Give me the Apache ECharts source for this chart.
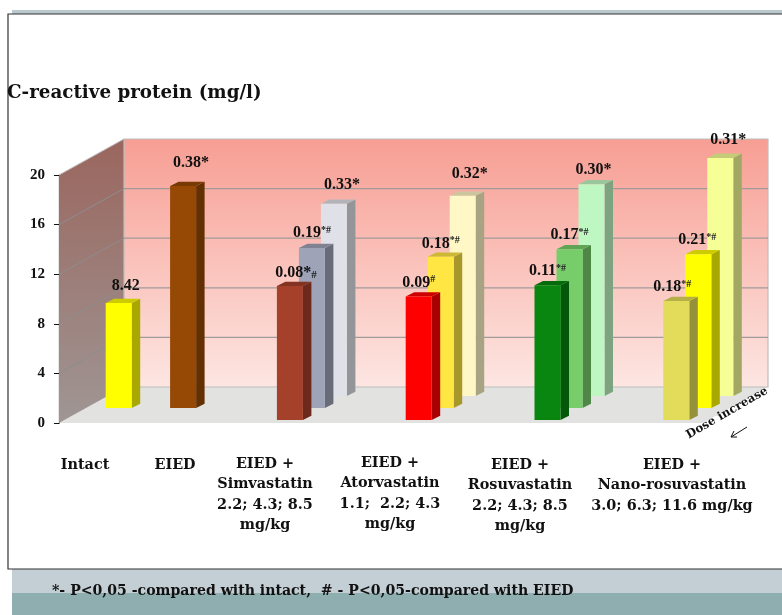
<!DOCTYPE html>
<html>
<head>
<meta charset="utf-8">
<style>html,body{margin:0;padding:0;background:#fff}#c{width:782px;height:615px}</style>
<script src="https://cdn.jsdelivr.net/npm/echarts@6/dist/echarts.min.js"></script>
</head>
<body>
<div id="c"></div>
<script>
// ---- data ----
const slots = ['Intact','EIED','','Simvastatin','','Atorvastatin','','Rosuvastatin','','Nano-rosuvastatin'];
const yTicks = [0,4,8,12,16,20];
const frontValues = [null,null,null,10.8,null,9.95,null,10.86,null,9.6];
const midValues   = [8.47,17.9,null,12.9,null,12.2,null,12.8,null,12.4];
const backValues  = [null,null,null,15.5,null,16.15,null,17.07,null,19.2];
const frontLabels = [null,null,null,'0.08*{sub|#}',null,'0.09{sup|#}',null,'0.11{sup|*#}',null,'0.18{sup|*#}'];
const midLabels   = ['8.42','0.38*',null,'0.19{sup|*#}',null,'0.18{sup|*#}',null,'0.17{sup|*#}',null,'0.21{sup|*#}'];
const backLabels  = [null,null,null,'0.33*',null,'0.32*',null,'0.30*',null,'0.31*'];
const groupLabels = ['Intact','EIED',null,'EIED +\nSimvastatin\n2.2; 4.3; 8.5\nmg/kg',null,'EIED +\nAtorvastatin\n1.1;  2.2; 4.3\nmg/kg',null,'EIED +\nRosuvastatin\n2.2; 4.3; 8.5\nmg/kg',null,'EIED +\nNano-rosuvastatin\n3.0; 6.3; 11.6 mg/kg'];
const titleText = 'C-reactive protein (mg/l)';
const footnote = '*- P<0,05 -compared with intact,  # - P<0,05-compared with EIED';
const doseText = 'Dose increase';

// ---- styling ----
const frontColors = [null,null,null,'#a5402a',null,'#ff0000',null,'#08860f',null,'#e2dc5a'];
const midColors   = ['#ffff00','#964805',null,'#9ea3b8',null,'#ffe642',null,'#78cd6b',null,'#ffff00'];
const backColors  = [null,null,null,'#e0e1e8',null,'#fff7c5',null,'#bff7c3',null,'#f6ff96'];
const frontLabelShift = [null,null,null,[6,-13],null,[0,-14],null,[0,-14],null,[-4,-14]];
const midLabelShift   = [[7,-17],[8,-23],null,[0,-15],null,[0,-13],null,[0,-14],null,[-1,-14]];
const backLabelShift  = [null,null,null,[8,-19],null,[7,-22],null,[2,-14],null,[8,-18]];
const groupLabelX = [85,175,null,265,null,390,null,520,null,672];
const groupLabelY = [455,455,null,454,null,453,null,455,null,455];
const FONT = '"Liberation Serif", serif';
const TEXTFONT = '"DejaVu Serif", serif';
const WALL = [65,-36];
const BAR_W = 26, SIDE_DX = 8.5, SIDE_DY = -4.3;

function shade(hex, k){
  const n = parseInt(hex.slice(1),16);
  const c = [n>>16,(n>>8)&255,n&255].map(v=>Math.round(v*k));
  return 'rgb('+c.join(',')+')';
}
function rows(values){
  const out=[];
  values.forEach((v,i)=>{ if(v!==null) out.push([i,v]); });
  return out;
}
function barSeries(name, values, colors, labels, shifts, rowDx, rowDy){
  return {
    name, type:'custom', coordinateSystem:'cartesian2d', silent:true,
    encode:{x:0,y:1}, data:rows(values), clip:false,
    renderItem(params, api){
      const i = api.value(0);
      const top = api.coord([i, api.value(1)]);
      const base = api.coord([i, 0]);
      const col = colors[i];
      const l = top[0]+rowDx-BAR_W/2, r = l+BAR_W;
      const t = top[1]+rowDy, b = base[1]+rowDy;
      const s = shifts[i];
      return {type:'group', children:[
        {type:'polygon', shape:{points:[[r,t],[r+SIDE_DX,t+SIDE_DY],[r+SIDE_DX,b+SIDE_DY],[r,b]]}, style:{fill:shade(col,0.66)}},
        {type:'polygon', shape:{points:[[l,t],[l+SIDE_DX,t+SIDE_DY],[r+SIDE_DX,t+SIDE_DY],[r,t]]}, style:{fill:shade(col,0.8)}},
        {type:'rect', shape:{x:l,y:t,width:BAR_W,height:b-t}, style:{fill:col}},
        {type:'text', z2:50, x:(l+r)/2+s[0], y:t+s[1], style:{
          text:labels[i], align:'center', verticalAlign:'middle',
          font:'bold 16px '+FONT, fill:'#111',
          rich:{sup:{font:'bold 10px '+FONT, fill:'#222', padding:[0,0,6,0]},
                sub:{font:'bold 11px '+FONT, fill:'#222', padding:[4,0,0,0]}}
        }}
      ]};
    }
  };
}
const wallSeries = {
  name:'walls', type:'custom', coordinateSystem:'cartesian2d', silent:true, clip:false,
  encode:{x:0,y:1}, data:[[0,0]],
  renderItem(params, api){
    const x0 = api.coord([0,0])[0]-api.size([1,0])[0]/2;
    const x1 = x0+api.size([1,0])[0]*slots.length;
    const y0 = api.coord([0,0])[1], y20 = api.coord([0,20])[1];
    const kids = [
      {type:'polygon', shape:{points:[[x0,y0],[x0+WALL[0],y0+WALL[1]],[x1+WALL[0],y0+WALL[1]],[x1,y0]]}, style:{fill:'#e2e2e0'}},
      {type:'polygon', shape:{points:[[x0,y0],[x0+WALL[0],y0+WALL[1]],[x0+WALL[0],y20+WALL[1]],[x0,y20]]},
        style:{fill:new echarts.graphic.LinearGradient(0,0,0,1,[{offset:0,color:'#9a665e'},{offset:1,color:'#9f9694'}])}},
      {type:'rect', shape:{x:x0+WALL[0],y:y20+WALL[1],width:x1-x0,height:y0-y20},
        style:{fill:new echarts.graphic.LinearGradient(0,0,0,1,[{offset:0,color:'#f79e93'},{offset:1,color:'#fde6e2'}]),stroke:'#bdbdbd',lineWidth:1.2}}
    ];
    yTicks.forEach(v=>{
      if(v===0) return;
      const y = api.coord([0,v])[1];
      kids.push({type:'line',shape:{x1:x0,y1:y,x2:x0+WALL[0],y2:y+WALL[1]},style:{stroke:v===20?'#bdbdbd':'#8d8d8d',lineWidth:1}});
      if(v!==20) kids.push({type:'line',shape:{x1:x0+WALL[0],y1:y+WALL[1],x2:x1+WALL[0],y2:y+WALL[1]},style:{stroke:'#a09a9a',lineWidth:1.3}});
    });
    return {type:'group',children:kids};
  }
};
const groupLabelSeries = {
  name:'group labels', type:'custom', coordinateSystem:'cartesian2d', silent:true, clip:false,
  encode:{x:0,y:1}, data:rows(groupLabels.map((g,i)=>g===null?null:0)),
  renderItem(params, api){
    const i = api.value(0);
    return {type:'text', x:groupLabelX[i], y:groupLabelY[i], style:{
      text:groupLabels[i], align:'center', verticalAlign:'top',
      font:'bold 14.4px '+TEXTFONT, lineHeight:20.5, fill:'#111'}};
  }
};

const chart = echarts.init(document.getElementById('c'));
chart.setOption({
  animation:false,
  backgroundColor:'#fff',
  title:[
    {text:titleText,left:7,top:84,textStyle:{fontFamily:TEXTFONT,fontWeight:'bold',fontSize:18.3,color:'#111'},padding:0}
  ],
  grid:{left:59,top:175,width:644,height:248},
  xAxis:{type:'category',data:slots,axisLine:{show:false},axisTick:{show:false},axisLabel:{show:false},splitLine:{show:false}},
  yAxis:{type:'value',min:0,max:20,interval:4,
    axisLine:{show:true,lineStyle:{color:'#111',width:1.2}},
    axisTick:{show:true,length:5,lineStyle:{color:'#111'}},
    axisLabel:{fontFamily:FONT,fontWeight:'bold',fontSize:15,color:'#111',margin:14,padding:[4,0,0,0]},
    splitLine:{show:false}},
  graphic:[
    {type:'rect',z:-10,shape:{x:12,y:10,width:770,height:4},style:{fill:'#b9c8cc'}},
    {type:'rect',z:-10,shape:{x:12,y:569,width:770,height:24},style:{fill:'#c3cfd5'}},
    {type:'rect',z:-10,shape:{x:12,y:593,width:770,height:22},style:{fill:'#8faeb0'}},
    {type:'rect',z:-9,shape:{x:8,y:14,width:776,height:555},style:{fill:'#fff',stroke:'#333',lineWidth:1.2}},
    {type:'text',z:20,x:52,y:591,style:{text:footnote,font:'bold 14.1px '+TEXTFONT,fill:'#111',verticalAlign:'middle'}},
    {type:'text',z:20,x:727,y:413,rotation:30*Math.PI/180,style:{text:doseText,font:'bold 11.8px '+TEXTFONT,fill:'#111',align:'center',verticalAlign:'middle'}},
    {type:'polyline',z:20,shape:{points:[[747,427],[731,437]]},style:{stroke:'#111',fill:null,lineWidth:1}},
    {type:'polyline',z:20,shape:{points:[[737,437],[731,437],[734,431]]},style:{stroke:'#111',fill:null,lineWidth:1}}
  ],
  series:[
    wallSeries,
    barSeries('high dose',backValues,backColors,backLabels,backLabelShift,49.5,-27),
    barSeries('middle dose',midValues,midColors,midLabels,midLabelShift,27.5,-15),
    barSeries('low dose',frontValues,frontColors,frontLabels,frontLabelShift,5.5,-3),
    groupLabelSeries
  ]
});
</script>
</body>
</html>
